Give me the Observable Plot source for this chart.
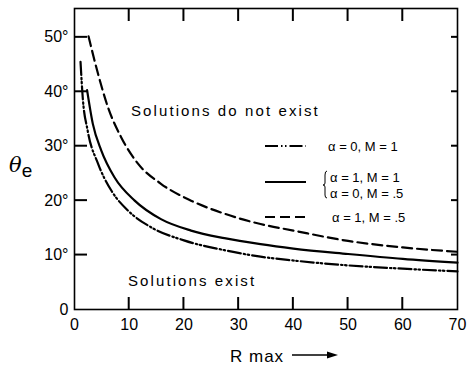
<!DOCTYPE html>
<html>
<head>
<meta charset="utf-8">
<script src="https://cdn.jsdelivr.net/npm/d3@7"></script>
<script src="https://cdn.jsdelivr.net/npm/@observablehq/plot@0.6"></script>
<style>
  html, body { margin: 0; padding: 0; background: #fff; }
  #chart svg { display: block; }
</style>
</head>
<body>
<div id="chart"></div>
<script>
// Series: alpha = 0, M = 1 (dash-dot-dot)
const R_a0M1 = [1.1, 1.5, 2.4, 4.3, 6.7, 9.75, 14, 20, 27.4, 34, 40, 50, 60, 70];
const T_a0M1 = [45.5, 39.0, 32.9, 26.8, 21.9, 18.2, 15.1, 12.7, 10.9, 9.7, 9.0, 8.1, 7.5, 7.0];
// Series: alpha = 1, M = 1 / alpha = 0, M = .5 (solid)
const R_a1M1 = [2.3, 3.35, 4.9, 7.3, 11, 15.8, 21.3, 27.4, 34, 40, 50, 60, 70];
const T_a1M1 = [40.3, 34.1, 29.2, 24.3, 20.0, 16.6, 14.5, 13.1, 12.0, 11.2, 10.2, 9.3, 8.6];
// Series: alpha = 1, M = .5 (dashed)
const R_a1M5 = [2.56, 4.3, 6.1, 8.5, 11.6, 15.8, 21.3, 27.4, 34, 40, 50, 60, 70];
const T_a1M5 = [50.2, 43.3, 37.2, 31.7, 26.8, 23.1, 20.0, 17.6, 15.7, 14.5, 12.6, 11.4, 10.6];

const xTicks = [0, 10, 20, 30, 40, 50, 60, 70];
const xInnerTicks = [10, 20, 30, 40, 50, 60];
const yTicks = [0, 10, 20, 30, 40, 50];
const yInnerTicks = [10, 20, 30, 40, 50];
const yTickLabels = ["0", "10°", "20°", "30°", "40°", "50°"];

const legendLabels = ["α = 0, M = 1", "α = 1, M = 1", "α = 0, M = .5", "α = 1, M = .5"];
const regionLabels = ["Solutions do not exist", "Solutions exist"];

const DASHDOT = "13,3,1.5,2.5,1.5,3";
const DASHED = "10,5";

const toRows = (R, T) => R.map((r, i) => ({R: r, T: T[i]}));
const s1 = toRows(R_a0M1, T_a0M1);
const s2 = toRows(R_a1M1, T_a1M1);
const s3 = toRows(R_a1M5, T_a1M5);

const FONT = "'Liberation Sans', Arial, sans-serif";
const W = 468, H = 366, ML = 74, MR = 11, MT = 8, MB = 57;

const plot = Plot.plot({
  width: W,
  height: H,
  marginLeft: ML,
  marginRight: MR,
  marginTop: MT,
  marginBottom: MB,
  style: {fontFamily: FONT, fontSize: "15px"},
  x: {domain: [0, 70]},
  y: {domain: [0, 55.3]},
  marks: [
    Plot.frame({stroke: "black", strokeWidth: 1.6}),
    Plot.axisX(xTicks, {anchor: "bottom", tickSize: 0, tickPadding: 9, fontSize: 16, label: null}),
    Plot.axisY(yTicks, {anchor: "left", tickSize: 0, tickPadding: 6, fontSize: 16, tickFormat: (d, i) => yTickLabels[i], label: null}),
    Plot.line(s1, {x: "R", y: "T", stroke: "black", strokeWidth: 2.2, strokeDasharray: DASHDOT, curve: "monotone-x"}),
    Plot.line(s2, {x: "R", y: "T", stroke: "black", strokeWidth: 2.2, curve: "monotone-x"}),
    Plot.line(s3, {x: "R", y: "T", stroke: "black", strokeWidth: 2.2, strokeDasharray: DASHED, curve: "monotone-x"})
  ]
});

document.getElementById("chart").appendChild(plot);

const svg = d3.select(plot);
const xs = plot.scale("x"), ys = plot.scale("y");
const px0 = xs.apply(0), px1 = xs.apply(70), py0 = ys.apply(0), py1 = ys.apply(55.3);

// inward ticks on all four sides, placed through the plot's scales
const tg = svg.append("g").attr("stroke", "black").attr("stroke-width", 2).attr("fill", "none");
xInnerTicks.forEach(v => {
  const x = xs.apply(v);
  tg.append("path").attr("d", `M${x},${py0}V${py0 - 12}`);
  tg.append("path").attr("d", `M${x},${py1}V${py1 + 13}`);
});
yInnerTicks.forEach(v => {
  const y = ys.apply(v);
  tg.append("path").attr("d", `M${px0},${y}H${px0 + 13}`);
  tg.append("path").attr("d", `M${px1},${y}H${px1 - 6}`);
});

// Annotations
const g = svg.append("g").attr("font-family", FONT).attr("fill", "#000").attr("text-anchor", "start");
g.append("text").attr("x", 131).attr("y", 116).attr("font-size", 15).attr("letter-spacing", 2.1)
  .text(regionLabels[0]);
g.append("text").attr("x", 128).attr("y", 286).attr("font-size", 15).attr("letter-spacing", 2.1)
  .text(regionLabels[1]);

// legend
const lg = svg.append("g").attr("font-family", FONT).attr("font-size", 13).attr("text-anchor", "start");
const legendLines = [
  {y: 146, dash: DASHDOT},
  {y: 182, dash: null},
  {y: 217, dash: DASHED}
];
legendLines.forEach(d => {
  lg.append("line").attr("x1", 265).attr("x2", 306).attr("y1", d.y).attr("y2", d.y)
    .attr("stroke", "#000").attr("stroke-width", 2.2)
    .attr("stroke-dasharray", d.dash);
});
lg.append("text").attr("x", 328).attr("y", 151).text(legendLabels[0]);
lg.append("text").attr("x", 330).attr("y", 182).text(legendLabels[1]);
lg.append("text").attr("x", 330).attr("y", 198).text(legendLabels[2]);
lg.append("text").attr("x", 332).attr("y", 222).text(legendLabels[3]);
// brace
lg.append("path")
  .attr("d", "M327,171 Q325,171 325,175 L325,183 Q325,185 323,185 Q325,185 325,187 L325,195 Q325,198 327,198")
  .attr("fill", "none").attr("stroke", "#000").attr("stroke-width", 1);

// y title θe
const yt = svg.append("text").attr("x", 9).attr("y", 172).attr("text-anchor", "start")
  .attr("font-family", "'DejaVu Serif', serif").attr("font-size", 21).attr("font-style", "italic");
yt.append("tspan").text("θ");
yt.append("tspan").attr("dy", 5).attr("font-family", FONT).attr("font-style", "normal").attr("font-size", 19).text("e");

// x title
svg.append("text").attr("x", 230).attr("y", 362).attr("text-anchor", "start").attr("font-family", FONT)
  .attr("font-size", 17).attr("letter-spacing", 1).text("R max");
svg.append("line").attr("x1", 292).attr("x2", 333).attr("y1", 355).attr("y2", 355)
  .attr("stroke", "#000").attr("stroke-width", 1.5);
svg.append("path").attr("d", "M338,355 L327,351.5 L327,358.5 Z").attr("fill", "#000");
</script>
</body>
</html>
